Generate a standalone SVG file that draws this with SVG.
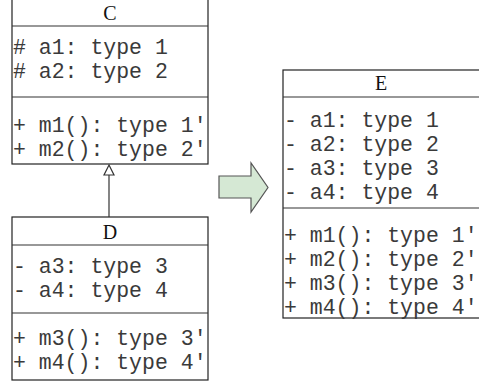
<svg xmlns="http://www.w3.org/2000/svg" width="479" height="387" viewBox="0 0 479 387">
<defs>
<style>
.box{fill:#ffffff;stroke:#222;stroke-width:1.2}
.sep{stroke:#333;stroke-width:1.2}
.title{font-family:"Liberation Serif","Times New Roman",serif;font-size:20px;fill:#111;text-anchor:middle}
.mono{font-family:"Liberation Mono","Courier New",monospace;font-size:21.5px;fill:#3a3a3a}
.conn{stroke:#333;stroke-width:1.2;fill:none}
</style>
</defs>
<rect width="479" height="387" fill="#ffffff"/>
<g id="C">
<rect class="box" x="12" y="-1" width="196" height="165"/>
<line class="sep" x1="12" y1="26" x2="208" y2="26"/>
<line class="sep" x1="12" y1="97" x2="208" y2="97"/>
<text class="title" x="110" y="20">C</text>
<text class="mono" x="13" y="54" xml:space="preserve"># a1: type 1</text>
<text class="mono" x="13" y="78" xml:space="preserve"># a2: type 2</text>
<text class="mono" x="13" y="132" xml:space="preserve">+ m1(): type 1'</text>
<text class="mono" x="13" y="156" xml:space="preserve">+ m2(): type 2'</text>
</g>
<g id="D">
<rect class="box" x="12" y="217" width="196" height="163"/>
<line class="sep" x1="12" y1="245" x2="208" y2="245"/>
<line class="sep" x1="12" y1="313" x2="208" y2="313"/>
<text class="title" x="110" y="239">D</text>
<text class="mono" x="13" y="273" xml:space="preserve">- a3: type 3</text>
<text class="mono" x="13" y="297" xml:space="preserve">- a4: type 4</text>
<text class="mono" x="13" y="345" xml:space="preserve">+ m3(): type 3'</text>
<text class="mono" x="13" y="369" xml:space="preserve">+ m4(): type 4'</text>
</g>
<g id="E">
<rect class="box" x="283" y="70" width="200" height="248"/>
<line class="sep" x1="283" y1="97" x2="483" y2="97"/>
<line class="sep" x1="283" y1="208" x2="483" y2="208"/>
<text class="title" x="381" y="90">E</text>
<text class="mono" x="284" y="127" xml:space="preserve">- a1: type 1</text>
<text class="mono" x="284" y="151" xml:space="preserve">- a2: type 2</text>
<text class="mono" x="284" y="175" xml:space="preserve">- a3: type 3</text>
<text class="mono" x="284" y="199" xml:space="preserve">- a4: type 4</text>
<text class="mono" x="284" y="242" xml:space="preserve">+ m1(): type 1'</text>
<text class="mono" x="284" y="266" xml:space="preserve">+ m2(): type 2'</text>
<text class="mono" x="284" y="290" xml:space="preserve">+ m3(): type 3'</text>
<text class="mono" x="284" y="314" xml:space="preserve">+ m4(): type 4'</text>
</g>
<g id="connectors">
<line class="conn" x1="109" y1="217" x2="109" y2="175"/>
<polygon class="conn" points="109,165 114,175 104,175" style="fill:#fff"/>
<polygon id="transform-arrow" points="219,176 251,176 251,163 268,187.5 251,212 251,198 219,198" fill="#d5e8d4" stroke="#555" stroke-width="1.2"/>
</g>
</svg>
